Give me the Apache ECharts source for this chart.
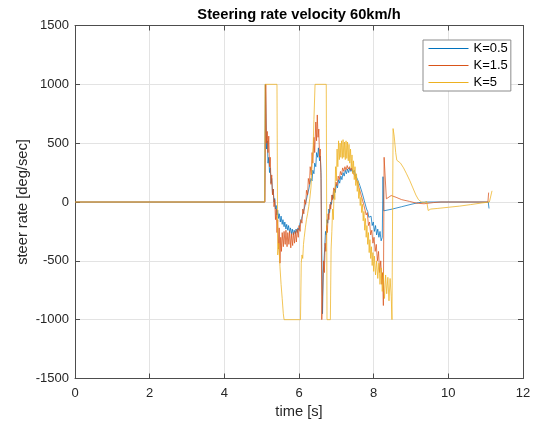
<!DOCTYPE html>
<html>
<head>
<meta charset="utf-8">
<title>Steering rate velocity 60km/h</title>
<script src="https://cdn.jsdelivr.net/npm/echarts@6/dist/echarts.min.js"></script>
<style>
  html, body { margin: 0; padding: 0; background: #ffffff; }
  #chart { width: 536px; height: 425px; }
</style>
</head>
<body>
<div id="chart"></div>
<script>
// Tick positions for both axes
const timeTicks = [0, 2, 4, 6, 8, 10, 12];
const rateTicks = [-1500, -1000, -500, 0, 500, 1000, 1500];

// Series names
const seriesNames = ['K=0.5', 'K=1.5', 'K=5'];

// Steering rate [deg/sec] versus time [s], gain K = 0.5
const rateK05 = [
  [0, 0], [5.08, 0], [5.10, 1000], [5.12, 1000], [5.13, 450], [5.15, 520], [5.17, 330], [5.19, 380],
  [5.21, 250], [5.23, 290], [5.25, 160], [5.27, 200], [5.29, 70], [5.31, 110], [5.33, 0], [5.35, 30],
  [5.37, -60], [5.39, -30], [5.41, -110], [5.43, -70], [5.45, -140], [5.47, -100], [5.50, -170], [5.52, -120],
  [5.55, -190], [5.57, -150], [5.60, -210], [5.62, -170], [5.65, -230], [5.67, -190], [5.70, -240], [5.72, -200],
  [5.75, -260], [5.77, -220], [5.80, -270], [5.82, -230], [5.85, -280], [5.87, -240], [5.90, -270], [5.92, -230],
  [5.95, -260], [5.97, -220], [6.00, -240], [6.02, -190], [6.05, -200], [6.07, -140], [6.10, -150], [6.12, -80],
  [6.15, -90], [6.17, -20], [6.20, -30], [6.22, 50], [6.25, 40], [6.27, 120], [6.30, 110], [6.32, 200],
  [6.35, 180], [6.37, 270], [6.40, 240], [6.42, 330], [6.45, 300], [6.47, 420], [6.50, 380], [6.52, 460],
  [6.55, 350], [6.57, 390], [6.59, 250], [6.61, -400], [6.63, -950], [6.65, -600], [6.67, -500], [6.69, -380],
  [6.71, -250], [6.73, -280], [6.75, -150], [6.77, -180], [6.80, -60], [6.82, -90], [6.85, 0], [6.87, -20],
  [6.90, 60], [6.92, 30], [6.95, 110], [6.97, 80], [7.00, 150], [7.03, 120], [7.06, 190], [7.09, 160],
  [7.12, 220], [7.15, 190], [7.18, 250], [7.21, 220], [7.24, 270], [7.27, 240], [7.30, 280], [7.33, 250],
  [7.36, 290], [7.39, 260], [7.42, 280], [7.45, 250], [7.48, 270], [7.51, 230], [7.54, 240], [7.57, 190],
  [7.60, 200], [7.63, 140], [7.66, 140], [7.69, 80], [7.72, 70], [7.75, 10], [7.78, 0], [7.81, -60],
  [7.84, -80], [7.87, -130], [7.90, -140], [7.93, -120], [7.96, -200], [7.99, -170], [8.02, -250], [8.05, -200],
  [8.08, -280], [8.11, -230], [8.14, -300], [8.17, -250], [8.20, -330], [8.23, -300], [8.25, 215], [8.27, -75],
  [8.31, -75], [8.50, -60], [8.75, -40], [9.00, -20], [9.20, -5], [9.40, 0], [11.07, 0], [11.09, -55]
];

// Steering rate [deg/sec] versus time [s], gain K = 1.5
const rateK15 = [
  [0, 0], [5.09, 0], [5.11, 1000], [5.12, 1000], [5.13, 500], [5.15, 600], [5.17, 420], [5.19, 560],
  [5.21, 300], [5.23, 380], [5.25, 150], [5.27, 230], [5.29, 60], [5.31, 110], [5.33, -40], [5.35, 20],
  [5.37, -150], [5.39, -60], [5.41, -260], [5.43, -150], [5.45, -400], [5.47, -220], [5.49, -520], [5.51, -300],
  [5.53, -420], [5.55, -260], [5.58, -380], [5.60, -250], [5.63, -360], [5.65, -240], [5.68, -380], [5.70, -260],
  [5.73, -360], [5.75, -250], [5.78, -390], [5.80, -270], [5.83, -370], [5.85, -260], [5.88, -350], [5.90, -250],
  [5.93, -340], [5.95, -230], [5.98, -300], [6.00, -200], [6.03, -250], [6.05, -150], [6.08, -180], [6.10, -60],
  [6.13, -100], [6.15, 20], [6.18, -20], [6.20, 100], [6.23, 60], [6.25, 200], [6.28, 150], [6.30, 300],
  [6.33, 230], [6.35, 420], [6.37, 330], [6.40, 550], [6.42, 420], [6.45, 680], [6.47, 520], [6.49, 740],
  [6.51, 550], [6.53, 620], [6.55, 380], [6.57, 450], [6.59, 200], [6.61, -1000], [6.64, -1000], [6.66, -500],
  [6.68, -600], [6.70, -350], [6.72, -420], [6.74, -200], [6.76, -260], [6.78, -100], [6.80, -150], [6.83, -20],
  [6.85, -60], [6.88, 60], [6.90, 20], [6.93, 120], [6.96, 90], [6.99, 170], [7.02, 140], [7.05, 220],
  [7.08, 190], [7.11, 260], [7.14, 230], [7.17, 290], [7.20, 260], [7.23, 300], [7.26, 270], [7.29, 310],
  [7.32, 280], [7.35, 300], [7.38, 270], [7.41, 290], [7.44, 250], [7.47, 260], [7.50, 220], [7.53, 230],
  [7.56, 170], [7.59, 180], [7.62, 110], [7.65, 120], [7.68, 40], [7.71, 50], [7.74, -30], [7.77, -20],
  [7.80, -110], [7.83, -90], [7.86, -200], [7.89, -170], [7.92, -280], [7.95, -240], [7.98, -350], [8.01, -300],
  [8.04, -420], [8.07, -360], [8.10, -500], [8.13, -420], [8.16, -600], [8.19, -500], [8.22, -700], [8.24, -600],
  [8.26, -880], [8.28, 380], [8.34, 27], [8.47, 55], [8.60, 40], [8.75, 20], [8.96, 5], [9.15, -10],
  [9.35, -15], [9.60, -5], [9.80, 0], [11.06, 0], [11.08, 80]
];

// Steering rate [deg/sec] versus time [s], gain K = 5
const rateK5 = [
  [0, 0], [5.08, 0], [5.09, 1000], [5.41, 1000], [5.43, -450], [5.46, -350], [5.49, -550], [5.52, -700],
  [5.55, -820], [5.58, -950], [5.60, -1000], [6.04, -1000], [6.06, -520], [6.08, -450], [6.10, -480], [6.12, -360],
  [6.14, -300], [6.17, -220], [6.20, -150], [6.23, -100], [6.26, -40], [6.29, 30], [6.32, 120], [6.35, 320],
  [6.38, 480], [6.40, 700], [6.43, 1000], [6.73, 1000], [6.75, -1000], [6.84, -1000], [6.86, -400], [6.88, -250],
  [6.90, -60], [6.92, -150], [6.94, 100], [6.96, 20], [6.98, 300], [7.00, 180], [7.02, 450], [7.04, 300],
  [7.06, 520], [7.08, 360], [7.10, 500], [7.12, 380], [7.14, 520], [7.16, 370], [7.18, 530], [7.20, 380],
  [7.22, 510], [7.24, 360], [7.26, 520], [7.28, 370], [7.30, 510], [7.32, 350], [7.34, 490], [7.36, 330],
  [7.38, 450], [7.40, 290], [7.42, 400], [7.44, 240], [7.46, 350], [7.48, 190], [7.50, 300], [7.52, 140],
  [7.54, 240], [7.56, 90], [7.58, 180], [7.60, 30], [7.62, 110], [7.64, -30], [7.66, 40], [7.68, -90],
  [7.70, -20], [7.72, -160], [7.74, -80], [7.76, -240], [7.78, -140], [7.80, -300], [7.82, -200], [7.84, -360],
  [7.86, -260], [7.88, -430], [7.90, -320], [7.92, -480], [7.94, -380], [7.96, -540], [7.98, -430], [8.00, -590],
  [8.02, -460], [8.05, -620], [8.08, -500], [8.11, -650], [8.14, -520], [8.17, -700], [8.20, -560], [8.23, -760],
  [8.26, -600], [8.29, -820], [8.32, -620], [8.35, -780], [8.38, -640], [8.41, -840], [8.44, -650], [8.47, -800],
  [8.49, -1000], [8.52, 624], [8.55, 560], [8.59, 420], [8.62, 355], [8.67, 345], [8.72, 330], [8.80, 290],
  [8.88, 240], [8.97, 180], [9.05, 120], [9.13, 60], [9.20, 20], [9.28, 0], [9.36, -5], [9.42, 5],
  [9.46, -72], [9.53, -60], [9.70, -55], [10.00, -45], [10.30, -35], [10.60, -22], [10.90, -8], [11.10, 0],
  [11.17, 95]
];

const seriesData = [rateK05, rateK15, rateK5];
const lineColors = ['#0072BD', '#D95319', '#EDB120'];

const FONT = '"Liberation Sans", Arial, Helvetica, sans-serif';
const AXIS_COLOR = '#4d4d4d';
const LABEL_COLOR = '#262626';
const GRID_COLOR = '#e3e3e3';

const chart = echarts.init(document.getElementById('chart'), null, { renderer: 'canvas' });

// Plain integer tick labels (no thousands separator)
const plainLabel = (v) => String(v);

// Shared settings for the boxed axes
function xAxisBase(position, showLabels) {
  return {
    type: 'value',
    position: position,
    min: timeTicks[0],
    max: timeTicks[timeTicks.length - 1],
    interval: timeTicks[1] - timeTicks[0],
    axisLine: { show: true, onZero: false, lineStyle: { color: AXIS_COLOR, width: 1 } },
    axisTick: { show: true, inside: true, length: 5, lineStyle: { color: AXIS_COLOR } },
    axisLabel: { show: showLabels, color: LABEL_COLOR, fontSize: 13, fontFamily: FONT, margin: 8, formatter: plainLabel },
    splitLine: { show: showLabels, lineStyle: { color: GRID_COLOR, width: 1 } }
  };
}
function yAxisBase(position, showLabels) {
  return {
    type: 'value',
    position: position,
    min: rateTicks[0],
    max: rateTicks[rateTicks.length - 1],
    interval: rateTicks[1] - rateTicks[0],
    axisLine: { show: true, onZero: false, lineStyle: { color: AXIS_COLOR, width: 1 } },
    axisTick: { show: true, inside: true, length: 5, lineStyle: { color: AXIS_COLOR } },
    axisLabel: { show: showLabels, color: LABEL_COLOR, fontSize: 13, fontFamily: FONT, margin: 6, formatter: plainLabel },
    splitLine: { show: showLabels, lineStyle: { color: GRID_COLOR, width: 1 } }
  };
}

const xMain = Object.assign(xAxisBase('bottom', true), {
  name: 'time [s]',
  nameLocation: 'middle',
  nameGap: 26,
  nameTextStyle: { color: LABEL_COLOR, fontSize: 14.7, fontFamily: FONT }
});
const yMain = Object.assign(yAxisBase('left', true), {
  name: 'steer rate [deg/sec]',
  nameLocation: 'middle',
  nameGap: 45,
  nameMoveOverlap: false,
  nameTextStyle: { color: LABEL_COLOR, fontSize: 14.7, fontFamily: FONT }
});

const option = {
  animation: false,
  backgroundColor: '#ffffff',
  title: {
    text: 'Steering rate velocity 60km/h',
    left: 299,
    top: 7,
    textAlign: 'center',
    padding: 0,
    textStyle: { color: '#000000', fontSize: 14.7, fontWeight: 'bold', fontFamily: FONT }
  },
  legend: {
    orient: 'vertical',
    left: 423,
    top: 40,
    padding: [2, 3, 2, 5],
    itemGap: 4,
    itemWidth: 40,
    itemHeight: 13,
    backgroundColor: '#ffffff',
    borderColor: '#8c8c8c',
    borderWidth: 1,
    borderRadius: 0,
    itemStyle: { opacity: 0 },
    lineStyle: { width: 1 },
    textStyle: { color: '#000000', fontSize: 13, fontFamily: FONT },
    data: seriesNames
  },
  grid: { left: 75, right: 13, top: 25.5, bottom: 46.5, containLabel: false },
  xAxis: [xMain, xAxisBase('top', false)],
  yAxis: [yMain, yAxisBase('right', false)],
  series: seriesNames.map((name, i) => ({
    name: name,
    type: 'line',
    xAxisIndex: 0,
    yAxisIndex: 0,
    data: seriesData[i],
    showSymbol: false,
    symbol: 'none',
    smooth: false,
    color: lineColors[i],
    lineStyle: { color: lineColors[i], width: 0.75 },
    z: 2 + i
  }))
};

chart.setOption(option);
</script>
</body>
</html>
